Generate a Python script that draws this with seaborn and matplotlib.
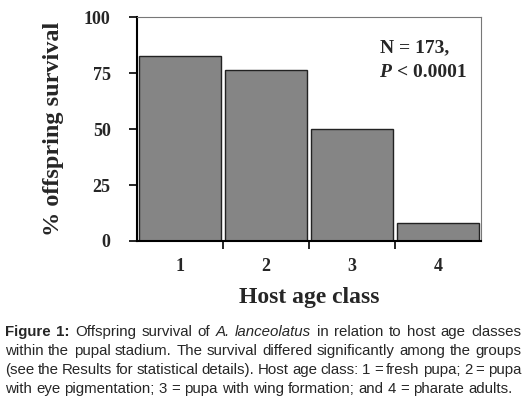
import matplotlib
matplotlib.use('Agg')
import matplotlib.pyplot as plt
import seaborn as sns
import pandas as pd

# data
age_class = ['1', '2', '3', '4']
survival = [82.6, 76.6, 50.0, 8.0]
y_ticks = [0, 25, 50, 75, 100]

caption_lines = [
    [('Figure', 'bold'), ('1:', 'bold'), ('Offspring', 'normal'), ('survival', 'normal'), ('of', 'normal'),
     ('A.', 'italic'), ('lanceolatus', 'italic'), ('in', 'normal'), ('relation', 'normal'), ('to', 'normal'),
     ('host', 'normal'), ('age', 'normal'), ('classes', 'normal')],
    [(w, 'normal') for w in 'within the pupal stadium. The survival differed significantly among the groups'.split()],
    [(w, 'normal') for w in '(see the Results for statistical details). Host age class: 1 = fresh pupa; 2 = pupa'.split()],
    [(w, 'normal') for w in 'with eye pigmentation; 3 = pupa with wing formation; and 4 = pharate adults.'.split()],
]

df = pd.DataFrame({'age': age_class, 'survival': survival})

sns.set_style('ticks')
plt.rcParams['font.family'] = ['Liberation Serif', 'DejaVu Serif']

fig = plt.figure(figsize=(5.32, 3.98), dpi=100)
ax = fig.add_axes([0.2575, 0.3945, 0.6465, 0.5625])

sns.barplot(data=df, x='age', y='survival', color='#858585', saturation=1,
            edgecolor='#222222', linewidth=1.0, width=0.96, ax=ax)

ax.set_xlim(-0.5, 3.5)
ax.set_ylim(0, 100)
ax.set_yticks(y_ticks)
ax.set_yticklabels([str(t) for t in y_ticks], fontsize=13, fontweight='bold')
ax.set_xticks(range(len(age_class)))
ax.set_xticklabels(age_class, fontsize=13, fontweight='bold')
ax.set_xticks([0.5, 1.5, 2.5], minor=True)
ax.tick_params(axis='x', which='major', length=0, pad=12)
ax.tick_params(axis='x', which='minor', length=6, width=1.2, direction='out', color='black')
ax.tick_params(axis='y', length=6, width=1.2, pad=13, color='black')

ax.set_xlabel('Host age class', fontsize=17, fontweight='bold', labelpad=9)
ax.set_ylabel('% offspring survival', fontsize=17.5, fontweight='bold', labelpad=14)

for side in ['left', 'bottom']:
    ax.spines[side].set_linewidth(1.5)
    ax.spines[side].set_color('black')
for side in ['top', 'right']:
    ax.spines[side].set_visible(True)
    ax.spines[side].set_linewidth(0.8)
    ax.spines[side].set_color('#777777')

ax.text(2.33, 86.2, 'N = 173,', fontsize=14, fontweight='bold', va='center', ha='left')
ax.text(2.32, 75.4, 'P', fontsize=14, fontweight='bold', style='italic', va='center', ha='left')
ax.text(2.52, 75.4, '< 0.0001', fontsize=14, fontweight='bold', va='center', ha='left')

# caption, justified word by word
renderer = fig.canvas.get_renderer()
cap_font = ['Liberation Sans', 'DejaVu Sans']
cap_size = 10.8
left_px, right_px = 5, 521
line_y = [332, 351, 370, 389]
H = fig.bbox.height
W = fig.bbox.width


def make_word(word, style, x):
    kw = dict(fontsize=cap_size, family=cap_font, va='center', ha='left', transform=None)
    if style == 'bold':
        kw['fontweight'] = 'bold'
    if style == 'italic':
        kw['style'] = 'italic'
    return fig.text(x, 0, word, **kw)


space_t = fig.text(0, 0, 'a a', fontsize=cap_size, family=cap_font)
aa_t = fig.text(0, 0, 'aa', fontsize=cap_size, family=cap_font)
space_w = space_t.get_window_extent(renderer).width - aa_t.get_window_extent(renderer).width
space_t.remove()
aa_t.remove()

for i, line in enumerate(caption_lines):
    texts = [make_word(w, s, 0) for w, s in line]
    widths = [t.get_window_extent(renderer).width for t in texts]
    if i < len(caption_lines) - 1:
        gap = (right_px - left_px - sum(widths)) / (len(texts) - 1)
    else:
        gap = space_w
    x = left_px
    for t, w in zip(texts, widths):
        t.set_transform(fig.transFigure)
        t.set_position((x / W, 1 - line_y[i] / H))
        x += w + gap

fig.savefig('out.png', dpi=100)
